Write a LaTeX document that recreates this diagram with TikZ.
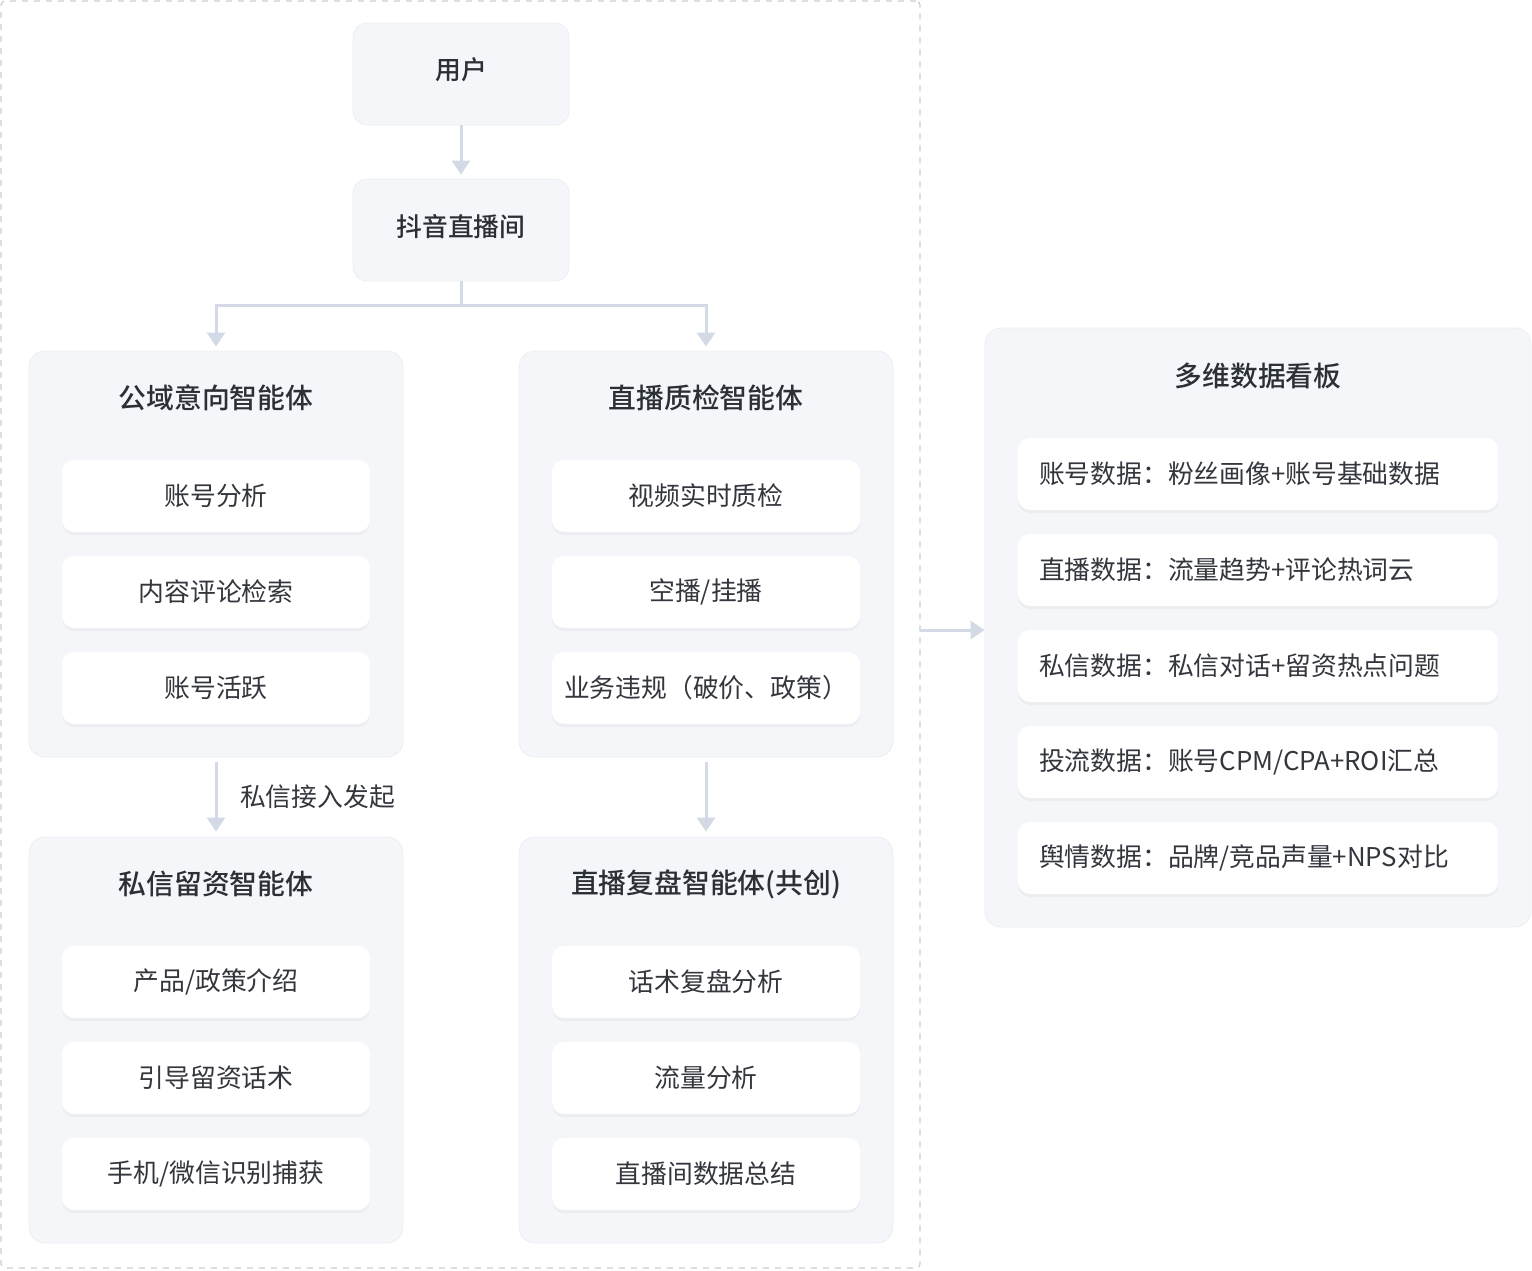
\documentclass[tikz,border=0pt]{standalone}
\usepackage{fontspec}
\setmainfont{Noto Sans CJK SC}[BoldFont={Noto Sans CJK SC Medium}]
\usetikzlibrary{arrows.meta,shadows}

\definecolor{grpfill}{HTML}{F5F6F9}
\definecolor{grpline}{HTML}{ECEEF2}
\definecolor{arrline}{HTML}{D3DAE5}
\definecolor{frameline}{HTML}{C9CDD4}
\definecolor{titletext}{HTML}{2B2F36}
\definecolor{itemtext}{HTML}{33363D}

\tikzset{
  topbox/.style={draw=grpline, fill=grpfill, rounded corners=7pt, minimum width=108pt, minimum height=51pt, text depth=5pt, font=\fontsize{12.9}{15}\selectfont\bfseries, text=titletext},
  grpbox/.style={draw=grpline, fill=grpfill, rounded corners=8pt, minimum width=187pt, minimum height=203pt},
  grptitle/.style={font=\fontsize{13.9}{16}\selectfont\bfseries, text=titletext},
  itembox/.style={fill=white, rounded corners=6pt, minimum width=154pt, minimum height=36pt, font=\fontsize{12.9}{15}\selectfont, text=itemtext,
    drop shadow={opacity=0.07, shadow xshift=0pt, shadow yshift=-1.5pt}},
  databox/.style={itembox, text width=219pt, inner xsep=10.5pt, align=left},
  arr/.style={draw=arrline, line width=1.5pt, -{Triangle[width=9pt,length=7pt]}},
  link/.style={draw=arrline, line width=1.5pt}
}

\begin{document}
\begin{tikzpicture}[x=0.5pt, y=-0.5pt]
\useasboundingbox (0,0) rectangle (1532,1270);

% dashed frame round the flow
\node (frame) [draw=frameline, dashed, line width=0.6pt, rounded corners=2pt, minimum width=459.5pt, minimum height=633.5pt, inner sep=0pt] at (460.5,634.5) {};

% entry
\node (user) [topbox] at (461,74) {用户};
\node (live) [topbox] at (461,230) {抖音直播间};

% four agents
\node (grpA) [grpbox] at (216,554) {};
\node (grpB) [grpbox] at (706,554) {};
\node (grpC) [grpbox] at (216,1040) {};
\node (grpD) [grpbox] at (706,1040) {};

\node (titleA) [grptitle] at (216,398) {公域意向智能体};
\node (titleB) [grptitle] at (706,398) {直播质检智能体};
\node (titleC) [grptitle] at (216,884) {私信留资智能体};
\node (titleD) [grptitle] at (706,884) {直播复盘智能体(共创)};

\node (a1) [itembox] at (216,496) {账号分析};
\node (a2) [itembox] at (216,592) {内容评论检索};
\node (a3) [itembox] at (216,688) {账号活跃};

\node (b1) [itembox] at (706,496) {视频实时质检};
\node (b2) [itembox] at (706,592) {空播/挂播};
\node (b3) [itembox] at (706,688) {业务违规（破价、政策）};

\node (c1) [itembox] at (216,982) {产品/政策介绍};
\node (c2) [itembox] at (216,1078) {引导留资话术};
\node (c3) [itembox] at (216,1174) {手机/微信识别捕获};

\node (d1) [itembox] at (706,982) {话术复盘分析};
\node (d2) [itembox] at (706,1078) {流量分析};
\node (d3) [itembox] at (706,1174) {直播间数据总结};

% dashboard
\node (board) [grpbox, minimum width=273pt, minimum height=299.5pt] at (1258,627.5) {};
\node (titleE) [grptitle] at (1258,376) {多维数据看板};
\node (e1) [databox] at (1258,474) {账号数据：粉丝画像+账号基础数据};
\node (e2) [databox] at (1258,570) {直播数据：流量趋势+评论热词云};
\node (e3) [databox] at (1258,666) {私信数据：私信对话+留资热点问题};
\node (e4) [databox] at (1258,762) {投流数据：账号CPM/CPA+ROI汇总};
\node (e5) [databox] at (1258,858) {舆情数据：品牌/竞品声量+NPS对比};

% connectors
\draw [arr, shorten >=2pt] (user) -- (live);
\coordinate (split) at (461,305);
\draw [link] (live) -- (split);
\draw [arr, shorten >=2pt] (split) -| (grpA.north);
\draw [arr, shorten >=2pt] (split) -| (grpB.north);
\draw [arr, shorten <=2.5pt, shorten >=2.5pt] (grpA) -- node [right=8pt, font=\fontsize{12.9}{15}\selectfont, text=itemtext] (hint) {私信接入发起} (grpC);
\draw [arr, shorten <=2.5pt, shorten >=2.5pt] (grpB) -- (grpD);
\coordinate (out) at (920,630);
\draw [arr] (out) -- (out -| board.west);

\end{tikzpicture}
\end{document}
